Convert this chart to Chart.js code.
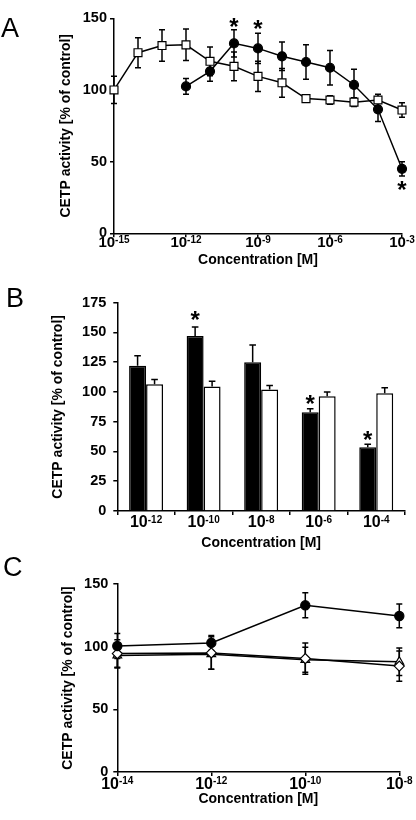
<!DOCTYPE html>
<html>
<head>
<meta charset="utf-8">
<script src="https://cdn.jsdelivr.net/npm/chart.js@4.4.0/dist/chart.umd.min.js"></script>
<style>
  html, body { margin: 0; padding: 0; background: #fff; }
  #wrap { position: relative; width: 416px; height: 820px; overflow: hidden; }
  canvas { position: absolute; left: 0; }
</style>
</head>
<body>
<div id="wrap">
  <canvas id="chartA" width="416" height="275" style="top:0px"></canvas>
  <canvas id="chartB" width="416" height="270" style="top:285px"></canvas>
  <canvas id="chartC" width="416" height="265" style="top:555px"></canvas>
</div>
<script>
// ---- panel A: log10 concentration [M] ----
const ticksA = [-15, -12, -9, -6, -3];
const concCircA = [-12, -11, -10, -9, -8, -7, -6, -5, -4, -3];
const circA = [102.5, 113, 132.5, 129, 123.5, 119.5, 115.5, 103.5, 86.5, 45];
const circErrA = [5.5, 7, 9.5, 10.5, 10, 12, 12, 11, 8.5, 5];
const concSqA = [-15, -14, -13, -12, -11, -10, -9, -8, -7, -6, -5, -4, -3];
const sqA = [100, 126, 131, 131.5, 120, 116.5, 109.5, 105, 94, 93, 91.5, 93, 86];
const sqErrA = [9.5, 10.5, 11, 11, 10, 10, 10.5, 10, 2, 3, 3, 4, 5];
const starsA = [[-10, 146], [-9, 144.5], [-3, 32.5]];

// ---- panel B ----
const catsB = [-12, -10, -8, -6, -4];
const blackB = [122, 147, 125, 83, 53.5];
const blackErrB = [8.5, 7.5, 14.5, 3, 2.5];
const whiteB = [106.5, 104.5, 102, 96.5, 99];
const whiteErrB = [4, 4.5, 3.5, 3.5, 4.5];
const starsB = [[1, 163], [3, 92], [4, 62.5]];

// ---- panel C ----
const concC = [-14, -12, -10, -8];
const circC = [100.5, 103, 133, 124.5];
const circErrC = [10, 6, 10, 9.5];
const diamC = [94.5, 95, 90.5, 84.5];
const diamErrC = [11, 13, 12.5, 12];
const triC = [93, 94, 89.5, 88];
const triErrC = [10, 12, 10, 11];

const FONT = '"Liberation Sans", Arial, Helvetica, sans-serif';
Chart.defaults.font.family = FONT;
Chart.defaults.color = '#000';

// error bars, drawn under the markers
const errorBars = {
  id: 'errorBars',
  beforeDatasetsDraw(chart) {
    const ctx = chart.ctx, ys = chart.scales.y;
    ctx.save();
    ctx.strokeStyle = '#000';
    ctx.lineWidth = 1.5;
    chart.data.datasets.forEach((ds, i) => {
      if (!ds.errors) return;
      const cap = ds.capHalf || 3;
      chart.getDatasetMeta(i).data.forEach((el, j) => {
        const d = ds.data[j];
        const v = typeof d === 'object' ? d.y : d;
        const e = ds.errors[j];
        const top = ys.getPixelForValue(v + e);
        const bot = ds.upOnly ? el.y : ys.getPixelForValue(v - e);
        ctx.beginPath();
        ctx.moveTo(el.x, top); ctx.lineTo(el.x, bot);
        ctx.moveTo(el.x - cap, top); ctx.lineTo(el.x + cap, top);
        if (!ds.upOnly) { ctx.moveTo(el.x - cap, bot); ctx.lineTo(el.x + cap, bot); }
        ctx.stroke();
      });
    });
    ctx.restore();
  }
};

// 10^n tick labels, stars and the panel letter
const extras = {
  id: 'extras',
  afterDraw(chart, args, o) {
    const ctx = chart.ctx, xs = chart.scales.x, ys = chart.scales.y;
    const base = chart.chartArea.bottom;
    ctx.save();
    ctx.fillStyle = '#000';
    ctx.textBaseline = 'alphabetic';
    ctx.textAlign = 'left';
    o.exps.forEach((ex, i) => {
      const x = xs.getPixelForValue(o.byIndex ? i : ex);
      ctx.font = `bold ${o.size}px ${FONT}`;
      const w1 = ctx.measureText('10').width;
      ctx.font = `bold ${o.supSize}px ${FONT}`;
      const sup = String(ex);
      const w2 = ctx.measureText(sup).width;
      const x0 = x - (w1 + w2) / 2;
      ctx.font = `bold ${o.size}px ${FONT}`;
      ctx.fillText('10', x0, base + o.dy);
      ctx.font = `bold ${o.supSize}px ${FONT}`;
      ctx.fillText(sup, x0 + w1, base + o.supDy);
    });
    ctx.font = `bold 24px ${FONT}`;
    ctx.textAlign = 'center';
    o.stars.forEach(s => {
      const x = o.byIndex ? chart.getDatasetMeta(0).data[s[0]].x : xs.getPixelForValue(s[0]);
      ctx.fillText('*', x, ys.getPixelForValue(s[1]) + 11);
    });
    ctx.textAlign = 'left';
    ctx.font = `27px ${FONT}`;
    ctx.fillText(o.letter, o.lx, o.ly);
    ctx.restore();
  }
};

function yAxis(max, step, width, titlePad, tickPad) {
  return {
    min: 0, max: max,
    ticks: { stepSize: step, padding: tickPad, font: { size: 14.5, weight: 'bold' }, color: '#000' },
    grid: { drawOnChartArea: false, drawTicks: true, tickLength: 4, color: '#000', lineWidth: 1.5 },
    border: { color: '#000', width: 1.5 },
    title: { display: true, text: 'CETP activity [% of control]', color: '#000',
             font: { size: 14, weight: 'bold' }, padding: { top: titlePad, bottom: 0 } },
    afterFit: s => { s.width = width; }
  };
}

function xTitle(pad) {
  return { display: true, text: 'Concentration [M]', color: '#000',
           font: { size: 14, weight: 'bold' }, padding: { top: 0, bottom: pad } };
}

function xLinear(min, max, tickVals, height, titlePad) {
  return {
    type: 'linear', min: min, max: max,
    afterBuildTicks: s => { s.ticks = tickVals.map(v => ({ value: v })); },
    ticks: { display: false },
    grid: { drawOnChartArea: false, drawTicks: true, tickLength: 4, color: '#000', lineWidth: 1.5 },
    border: { color: '#000', width: 1.5 },
    title: xTitle(titlePad),
    afterFit: s => { s.height = height; }
  };
}

function lineSet(xs, ys, errs, style, radius, fill) {
  return {
    data: xs.map((x, i) => ({ x: x, y: ys[i] })),
    errors: errs,
    borderColor: '#000', borderWidth: 1.5,
    pointStyle: style, pointRadius: radius,
    pointBackgroundColor: fill, pointBorderColor: '#000', pointBorderWidth: 1.2,
    clip: false, tension: 0
  };
}

const common = { responsive: false, animation: false, events: [] };

new Chart(document.getElementById('chartA'), {
  type: 'line',
  data: {
    datasets: [
      lineSet(concCircA, circA, circErrA, 'circle', 4.5, '#000'),
      lineSet(concSqA, sqA, sqErrA, 'rect', 5.6, '#fff')
    ]
  },
  options: Object.assign({}, common, {
    layout: { padding: { left: 0, top: 18.3, right: 14, bottom: 0 } },
    scales: {
      x: xLinear(-15, -3, ticksA, 41.7, 6.6),
      y: yAxis(150, 50, 114, 57.6, 3)
    },
    plugins: {
      legend: { display: false }, tooltip: { enabled: false },
      extras: { exps: ticksA, size: 15, supSize: 10, dy: 13.4, supDy: 10, stars: starsA, letter: 'A', lx: 1, ly: 37 }
    }
  }),
  plugins: [errorBars, extras]
});

new Chart(document.getElementById('chartB'), {
  type: 'bar',
  data: {
    labels: catsB.map(String),
    datasets: [
      { data: blackB, errors: blackErrB, upOnly: true, capHalf: 3.3, backgroundColor: '#000', borderColor: '#000', borderWidth: 1.5 },
      { data: whiteB, errors: whiteErrB, upOnly: true, capHalf: 3.3, backgroundColor: '#fff', borderColor: '#000', borderWidth: 1.5 }
    ]
  },
  options: Object.assign({}, common, {
    layout: { padding: { left: 0, top: 17.7, right: 11, bottom: 0 } },
    datasets: { bar: { categoryPercentage: 0.59, barPercentage: 1.0 } },
    scales: {
      x: {
        type: 'category', offset: true,
        ticks: { display: false },
        grid: { offset: true, drawOnChartArea: false, drawTicks: true, tickLength: 4, color: '#000', lineWidth: 1.5 },
        border: { color: '#000', width: 1.5 },
        title: xTitle(3.6),
        afterFit: s => { s.height = 44; }
      },
      y: yAxis(175, 25, 117.3, 49.6, 7)
    },
    plugins: {
      legend: { display: false }, tooltip: { enabled: false },
      extras: { exps: catsB, byIndex: true, size: 16, supSize: 10, dy: 16.3, supDy: 12.3, stars: starsB, letter: 'B', lx: 6, ly: 21.7 }
    }
  }),
  plugins: [errorBars, extras]
});

new Chart(document.getElementById('chartC'), {
  type: 'line',
  data: {
    datasets: [
      lineSet(concC, circC, circErrC, 'circle', 4.6, '#000'),
      lineSet(concC, diamC, diamErrC, 'rectRot', 5, '#fff'),
      lineSet(concC, triC, triErrC, 'triangle', 5, '#fff')
    ]
  },
  options: Object.assign({}, common, {
    layout: { padding: { left: 0, top: 29, right: 16.7, bottom: 0 } },
    scales: {
      x: xLinear(-14, -8, concC, 48, 12.3),
      y: yAxis(150, 50, 117.3, 59.6, 5)
    },
    plugins: {
      legend: { display: false }, tooltip: { enabled: false },
      extras: { exps: concC, size: 16, supSize: 10, dy: 17, supDy: 12, stars: [], letter: 'C', lx: 3, ly: 21 }
    }
  }),
  plugins: [errorBars, extras]
});
</script>
</body>
</html>
